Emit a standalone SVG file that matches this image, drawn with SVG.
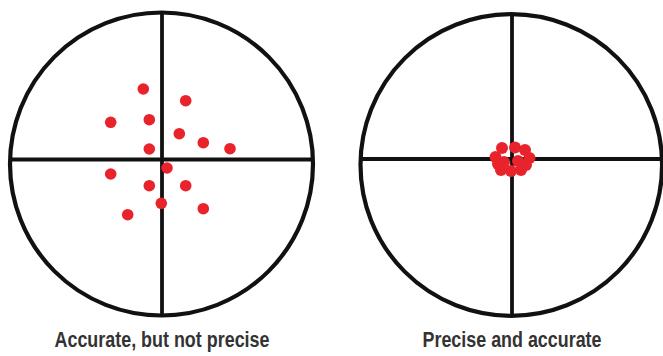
<svg xmlns="http://www.w3.org/2000/svg" width="663" height="356" viewBox="0 0 663 356">
<style>
.ring{fill:none;stroke:#111;stroke-width:4.2}
.hair{stroke:#111;stroke-width:3.8}
.dot{fill:#e8232b}
.lbl{font-family:"Liberation Sans",Arial,sans-serif;font-size:22.5px;font-weight:bold;fill:#333;text-anchor:middle}
</style>
<rect width="663" height="356" fill="#fff"/>
<g id="target-left">
<circle class="ring" cx="161.5" cy="164" r="151.5"/>
<line class="hair" x1="10" y1="159.5" x2="313" y2="159.5"/>
<line class="hair" x1="162" y1="12" x2="162" y2="316"/>
<g id="dots-left">
<circle class="dot" cx="143.3" cy="89" r="5.8"/>
<circle class="dot" cx="185.7" cy="100.7" r="5.8"/>
<circle class="dot" cx="110.7" cy="122.3" r="5.8"/>
<circle class="dot" cx="149.3" cy="119.7" r="5.8"/>
<circle class="dot" cx="179.3" cy="133.7" r="5.8"/>
<circle class="dot" cx="203.3" cy="142.7" r="5.8"/>
<circle class="dot" cx="230" cy="148.7" r="5.8"/>
<circle class="dot" cx="149.3" cy="149" r="5.8"/>
<circle class="dot" cx="167" cy="168" r="5.8"/>
<circle class="dot" cx="110.7" cy="174" r="5.8"/>
<circle class="dot" cx="149.3" cy="185.7" r="5.8"/>
<circle class="dot" cx="185.7" cy="185.7" r="5.8"/>
<circle class="dot" cx="161.3" cy="203.3" r="5.8"/>
<circle class="dot" cx="203.3" cy="208.7" r="5.8"/>
<circle class="dot" cx="127.7" cy="214.7" r="5.8"/>
</g>
<text class="lbl" x="162" y="347" textLength="215" lengthAdjust="spacingAndGlyphs">Accurate, but not precise</text>
</g>
<g id="target-right">
<circle class="ring" cx="511.3" cy="165" r="150.8"/>
<line class="hair" x1="360" y1="159" x2="662" y2="159"/>
<line class="hair" x1="512" y1="14" x2="512" y2="316"/>
<g id="dots-right">
<circle class="dot" cx="502" cy="148" r="6"/>
<circle class="dot" cx="515" cy="147.5" r="6"/>
<circle class="dot" cx="525" cy="150" r="6"/>
<circle class="dot" cx="495.5" cy="157" r="6"/>
<circle class="dot" cx="529.5" cy="158" r="6"/>
<circle class="dot" cx="504" cy="162" r="6"/>
<circle class="dot" cx="518" cy="161" r="6"/>
<circle class="dot" cx="526" cy="165" r="6"/>
<circle class="dot" cx="498" cy="164" r="6"/>
<circle class="dot" cx="501" cy="170" r="6"/>
<circle class="dot" cx="511" cy="171" r="6"/>
<circle class="dot" cx="521" cy="170" r="6"/>
</g>
<text class="lbl" x="512" y="347" textLength="179" lengthAdjust="spacingAndGlyphs">Precise and accurate</text>
</g>
</svg>
